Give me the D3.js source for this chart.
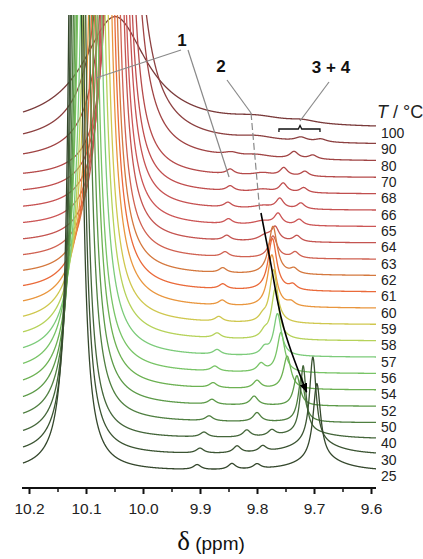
<!DOCTYPE html>
<html>
<head>
<meta charset="utf-8">
<script src="https://cdn.jsdelivr.net/npm/d3@7"></script>
<style>
  body { margin: 0; background: #fff; }
  svg { display: block; font-family: "Liberation Sans", Arial, sans-serif; }
</style>
</head>
<body>
<div id="chart"></div>
<script>
// temperatures, bottom spectrum first
const temps = [25, 30, 40, 50, 52, 54, 56, 57, 58, 59, 60, 61, 62, 63, 64, 65, 66, 68, 70, 80, 90, 100];
const lineColors = ["#34472c", "#3b5432", "#44663a", "#4f7f40", "#5c9a48", "#6cb152", "#78c466", "#7ccb7a", "#b6d25a", "#cfc74e",
                    "#e9963e", "#ea6a3a", "#d4783e", "#d06252", "#c45450", "#cc5656", "#c65252", "#c04e4e", "#b54a4a", "#a04444", "#8c4040", "#7a3a3a"];

// peak 1 (aldehyde), off scale: position (ppm), height, half width (ppm)
const p1Pos = [10.119, 10.116, 10.113, 10.108, 10.104, 10.100, 10.097, 10.091, 10.086, 10.081, 10.075, 10.070, 10.065, 10.060, 10.054, 10.051, 10.047, 10.044, 10.040, 10.039, 10.040, 10.049];
const p1Height = [2000, 2000, 2000, 2000, 2000, 2000, 2000, 2000, 2000, 2000, 2000, 2000, 2000, 2000, 2000, 2000, 2000, 2000, 2000, 1200, 700, 112];
const p1Width = [0.0061, 0.0062, 0.0065, 0.0072, 0.0076, 0.0080, 0.0083, 0.0085, 0.0086, 0.0086, 0.0085, 0.0082, 0.0078, 0.0076, 0.0075, 0.0076, 0.0078, 0.0080, 0.0083, 0.0139, 0.022, 0.068];

// small companion of peak 1 near 9.85-9.90
const p1bPos = [9.905, 9.900, 9.893, 9.884, 9.879, 9.877, 9.874, 9.870, 9.870, 9.867, 9.861, 9.860, 9.860, 9.856, 9.853, 9.850, 9.851, 9.847, 9.847, 9.845, null, null];
const p1bHeight = [5, 5, 5, 5, 5, 5, 5, 5, 5, 5, 5, 5, 5, 5, 5, 5, 5, 5, 5, 3, 0, 0];

// peak 2
const p2Pos = [9.695, 9.702, 9.719, 9.722, 9.730, 9.747, 9.758, 9.764, 9.768, 9.771, 9.774, 9.773, 9.772, 9.772, 9.785, 9.79, 9.79, 9.79, 9.79, 9.80, 9.80, 9.80];
const p2Height = [76, 86, 67, 45, 30, 33, 40, 42, 50, 53, 52, 52, 48, 22, 6, 4, 3, 3, 3, 3, 4, 6];
const p2Width = [0.008, 0.007, 0.006, 0.007, 0.007, 0.008, 0.008, 0.008, 0.008, 0.008, 0.009, 0.009, 0.009, 0.009, 0.015, 0.02, 0.02, 0.02, 0.02, 0.03, 0.04, 0.06];

// peaks 3 and 4
const p3Pos = [9.844, 9.835, 9.818, 9.800, 9.805, 9.800, 9.793, 9.787, 9.787, 9.790, null, null, null, null, 9.768, 9.763, 9.760, 9.754, 9.753, 9.735, 9.723, 9.72];
const p3Height = [6, 7, 7, 9, 9, 8, 8, 7, 6, 5, 0, 0, 0, 0, 13, 11, 10, 9, 8, 7, 4, 3];
const p4Pos = [9.800, 9.790, 9.774, null, null, null, null, null, null, null, 9.740, 9.737, 9.735, 9.733, 9.730, 9.726, 9.723, 9.718, 9.716, 9.702, 9.688, null];
const p4Height = [5, 6, 6, 0, 0, 0, 0, 0, 0, 0, 4, 5, 5, 6, 6, 6, 6, 5, 5, 4, 3, 0];
const p34Width = [0.008, 0.008, 0.008, 0.008, 0.008, 0.008, 0.008, 0.008, 0.008, 0.008, 0.008, 0.008, 0.008, 0.008, 0.008, 0.008, 0.008, 0.008, 0.008, 0.009, 0.012, 0.03];

// broad hump under peak 2 at low temperature
const broadPos = [9.69, 9.70, 9.71, null, null, null, null, null, null, null, null, null, null, null, null, null, null, null, null, null, null, null];
const broadHeight = [12, 12, 6, 0, 0, 0, 0, 0, 0, 0, 0, 0, 0, 0, 0, 0, 0, 0, 0, 0, 0, 0];

const xTicks = [10.2, 10.1, 10.0, 9.9, 9.8, 9.7, 9.6];
const xMinorTicks = [10.15, 10.05, 9.95, 9.85, 9.75, 9.65];

const W = 423, H = 559;
const svg = d3.select("#chart").append("svg")
    .attr("width", W)
    .attr("height", H);

const x = d3.scaleLinear().domain([10.2, 9.6]).range([29, 371]);
const row = d3.scalePoint().domain(temps).range([472, 129]);
const amp = d3.scaleLinear().domain([0, 100]).range([0, -100]);

svg.append("clipPath").attr("id", "plotclip")
    .append("rect")
    .attr("x", 0).attr("y", 15)
    .attr("width", 378).attr("height", 470);

function lorentz(p, c, h, w) {
    if (c == null || !h) return 0;
    const d = (p - c) / w;
    return h / (1 + d * d);
}

// spectrum sampling grid, left edge to right edge of the plot
const ppmLeft = x.invert(23), ppmRight = x.invert(376);
const grid = d3.range(0, 2601).map(i => ppmLeft + (ppmRight - ppmLeft) * i / 2600);

function spectrum(i) {
    return grid.map(p => ({
        ppm: p,
        v: lorentz(p, p1Pos[i], p1Height[i], p1Width[i]) +
           lorentz(p, p1bPos[i], p1bHeight[i], i === 19 ? 0.015 : 0.008) +
           lorentz(p, p2Pos[i], p2Height[i], p2Width[i]) +
           lorentz(p, p3Pos[i], p3Height[i], p34Width[i]) +
           lorentz(p, p4Pos[i], p4Height[i], p34Width[i]) +
           lorentz(p, broadPos[i], broadHeight[i], 0.05)
    }));
}

const plot = svg.append("g").attr("clip-path", "url(#plotclip)");

// draw hot spectra first so the cold ones sit on top
const order = d3.range(temps.length).reverse();
order.forEach(i => {
    const T = temps[i];
    const line = d3.line()
        .x(d => x(d.ppm))
        .y(d => Math.max(row(T) + amp(d.v), 5));
    plot.append("path")
        .datum(spectrum(i))
        .attr("d", line)
        .attr("fill", "none")
        .attr("stroke", lineColors[i])
        .attr("stroke-width", 1.3);
});

// temperature labels
svg.append("g").selectAll("text")
    .data(temps)
    .join("text")
    .attr("x", 381)
    .attr("y", d => row(d) + 4)
    .attr("dy", "0.35em")
    .attr("font-size", 14)
    .attr("fill", "#222")
    .text(d => d);

const th = svg.append("text")
    .attr("x", 377).attr("y", 118)
    .attr("font-size", 18)
    .attr("fill", "#222");
th.append("tspan").attr("font-style", "italic").text("T");
th.append("tspan").text(" / °C");

// x axis
const axisY = 488;
const axisG = svg.append("g").attr("transform", `translate(0,${axisY})`);
axisG.call(d3.axisBottom(x).tickValues(xTicks).tickSize(6).tickPadding(9).tickFormat(d3.format(".1f")))
    .call(g => g.select(".domain").remove())
    .call(g => g.selectAll(".tick line").attr("stroke", "#111").attr("stroke-width", 2))
    .call(g => g.selectAll(".tick text").attr("font-size", 15.5).attr("fill", "#222")
        .attr("font-family", "'Liberation Sans', Arial, sans-serif"));
const minorG = svg.append("g").attr("transform", `translate(0,${axisY})`);
minorG.call(d3.axisBottom(x).tickValues(xMinorTicks).tickSize(4).tickFormat(""))
    .call(g => g.select(".domain").remove())
    .call(g => g.selectAll(".tick line").attr("stroke", "#111").attr("stroke-width", 1.5));
svg.append("line")
    .attr("x1", x(ppmLeft) - 1).attr("x2", x(ppmRight))
    .attr("y1", axisY).attr("y2", axisY)
    .attr("stroke", "#111").attr("stroke-width", 2);

const xl = svg.append("text")
    .attr("x", 211).attr("y", 550)
    .attr("text-anchor", "middle")
    .attr("fill", "#111");
xl.append("tspan").attr("font-family", "'Liberation Serif', 'DejaVu Serif', serif").attr("font-size", 27).text("δ");
xl.append("tspan").attr("font-size", 19).text(" (ppm)");

// annotations
const ann = svg.append("g").attr("fill", "none").attr("stroke", "#8a8a8a").attr("stroke-width", 1.2);
ann.append("line").attr("x1", 181).attr("y1", 50).attr("x2", x(10.0825)).attr("y2", 78);
ann.append("line").attr("x1", 188).attr("y1", 50).attr("x2", x(9.849)).attr("y2", 177);
ann.append("line").attr("x1", 227).attr("y1", 80).attr("x2", x(9.8105)).attr("y2", 113);
ann.append("line").attr("x1", x(9.8105)).attr("y1", 113).attr("x2", x(9.795)).attr("y2", 212)
    .attr("stroke-dasharray", "7,3");
ann.append("line").attr("x1", 329).attr("y1", 82).attr("x2", x(9.7245)).attr("y2", 121);

svg.append("path")
    .attr("d", `M${x(9.7615)},132 L${x(9.7615)},129 L${x(9.7275)},129 L${x(9.7245)},125.5 L${x(9.7215)},129 L${x(9.6895)},129 L${x(9.6895)},132`)
    .attr("fill", "none").attr("stroke", "#111").attr("stroke-width", 1.3);

// peak 2 trend arrow
const arrowPts = [[9.793, 213], [9.784, 240], [9.775, 265], [9.765, 300], [9.753, 330], [9.735, 360], [9.713, 392]];
svg.append("defs").append("marker")
    .attr("id", "ah").attr("viewBox", "0 0 10 10")
    .attr("refX", 9).attr("refY", 5)
    .attr("markerWidth", 6).attr("markerHeight", 6)
    .attr("orient", "auto")
    .append("path").attr("d", "M0,1 L10,5 L0,9 Z").attr("fill", "#000");
svg.append("path")
    .datum(arrowPts)
    .attr("d", d3.line().x(d => x(d[0])).y(d => d[1]).curve(d3.curveBasis))
    .attr("fill", "none").attr("stroke", "#000").attr("stroke-width", 1.6)
    .attr("marker-end", "url(#ah)");

const labels = [["1", 182, 46], ["2", 221, 72], ["3 + 4", 331, 73]];
svg.append("g").selectAll("text")
    .data(labels)
    .join("text")
    .attr("x", d => d[1]).attr("y", d => d[2])
    .attr("text-anchor", "middle")
    .attr("font-size", 17).attr("font-weight", "bold").attr("fill", "#111")
    .text(d => d[0]);
</script>
</body>
</html>
